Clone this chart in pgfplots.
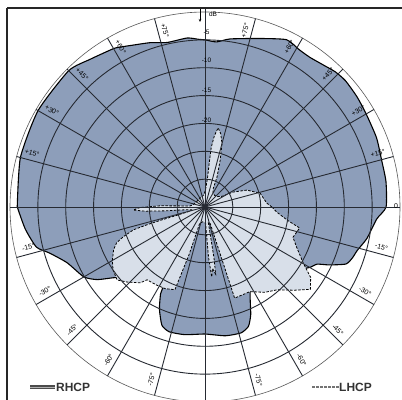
\documentclass[border=0pt]{standalone}
\usepackage{pgfplots}
\pgfplotsset{compat=1.18}
\usepackage{pgfplotstable}
\usepackage{fontspec}
\setmainfont{Liberation Sans}
\usetikzlibrary{arrows.meta}

\definecolor{rhcpfill}{RGB}{141,158,186}
\definecolor{lhcpfill}{RGB}{216,223,233}
\definecolor{gridc}{RGB}{38,42,50}

% RHCP pattern, angle (deg) and level (dB)
\pgfplotstableread{
ang db
-180 -1.3
-173 -2.5
-166.6 -3.9
-163.5 -5.9
-158 -8.3
-150 -9.9
-146 -11.7
-142 -14.4
-135 -17.1
-125 -19.7
-118 -18.8
-117 -17.4
-114 -14.9
-110 -12.4
-106 -11.7
-99 -11.8
-90 -12.2
-81 -11.6
-74 -11.5
-70 -12.2
-67 -14.0
-64 -16.5
-59 -19.2
-55 -19.6
-50 -19.2
-45 -18.3
-40 -17.1
-35 -15.3
-30 -13.3
-27 -12.4
-25 -10.4
-22 -7.7
-19 -7.0
-16 -6.6
-11 -5.4
-4 -4.1
0 -2.5
8 -2.2
15 -2.2
22 -1.8
30 -1.6
36 -1.3
42 -1.1
46 -1.3
50 -1.8
55 -2.2
59 -2.1
64 -1.6
72 -3.2
81.5 -4.5
86 -5.3
90 -5.0
92 -4.9
96 -4.5
103 -4.7
108.5 -3.9
114 -3.2
119 -2.3
121 -2.1
128 -1.4
135 -0.4
150 -0.4
165 -0.7
180 -1.3
}\rhcpdata

% LHCP pattern
\pgfplotstableread{
ang db
0 -23.0
3.7 -23.9
14 -24.8
22 -26.9
28 -29.3
32 -31.4
40 -32.1
50 -32.3
60 -32.1
66 -31.4
68 -29.3
72 -26.2
75 -23.2
78 -21.5
80.6 -20.6
82.5 -22.1
84 -24.2
84.5 -26.9
85 -29.6
88 -31.8
95 -32.8
120 -33.2
150 -33.2
170 -32.8
176 -32.3
178.5 -26.9
180.5 -23.3
182.4 -22.1
184 -24.2
185.5 -27.8
188 -31.4
192 -32.5
195 -32.3
196.5 -29.6
196.6 -26.9
197 -24.2
197.7 -21.5
200 -19.4
202 -17.9
205 -16.9
210 -15.8
214.4 -15.0
219.7 -14.5
224 -15.6
229.5 -17.1
231.5 -18.3
238 -18.5
244 -18.7
250 -19.2
251.5 -26.0
252 -31.8
260 -32.3
272 -32.1
274 -26.0
275.5 -22.4
277 -23.9
279 -22.8
280 -25.7
282 -32.1
286 -32.1
287.5 -31.8
288 -17.8
298 -17.8
305 -16.3
311 -15.3
317 -13.1
322 -11.0
326.3 -12.2
330.3 -14.7
336.5 -17.1
341 -18.3
347.5 -17.6
351 -20.1
356 -22.1
360 -23.0
}\lhcpdata

\begin{document}
\begin{tikzpicture}
\useasboundingbox (0,0) rectangle (402bp,400bp);
\fill[white] (0,0) rectangle (402bp,400bp);

% radius 35 units = 195bp; centre at (205bp,193bp); -35 dB at centre
\begin{axis}[
    at={(0,0)}, anchor=south west,
    scale only axis, hide axis,
    width=402bp, height=400bp,
    xmin=-36.795, xmax=35.359,
    ymin=-34.641, ymax=37.154,
]
\addplot[fill=rhcpfill, draw=black, line width=1.1bp, data cs=polar,
         smooth, tension=0.35]
    table[x=ang, y expr=\thisrow{db}+35] {\rhcpdata};
\addplot[fill=lhcpfill, draw=black, line width=0.8bp, data cs=polar,
         dash pattern=on 2.5bp off 1.5bp]
    table[x=ang, y expr=\thisrow{db}+35] {\lhcpdata};
\end{axis}

\coordinate (O) at (205bp,193bp);
\begin{scope}
\clip (0,0) rectangle (402bp,400bp);
% grid
\foreach \r in {27.857,55.714,83.571,111.43,139.29,167.14}
    \draw[gridc, line width=0.9bp] (O) circle[radius=\r bp];
\draw[gray!70!black, line width=0.6bp] (O) circle[radius=195bp];
\foreach \a in {0,15,...,345}
    \draw[gridc, line width=0.9bp] (O) -- ++(\a:195bp);
\draw[gridc, line width=0.9bp] (O) -- ++(90:199bp);

% elevation labels
\foreach \e in {15,30,45,60,75}{
    \pgfmathsetmacro{\pa}{\e+2.2}
    \pgfmathsetmacro{\pb}{177.8-\e}
    \pgfmathsetmacro{\pc}{2.2-\e}
    \pgfmathsetmacro{\pd}{177.8+\e}
    \node[font=\fontsize{7}{7}\selectfont, inner sep=0pt, rotate=\e]
        at ([shift={(\pa:181bp)}]O) {+\e°};
    \node[font=\fontsize{7}{7}\selectfont, inner sep=0pt, rotate=-\e]
        at ([shift={(\pb:181bp)}]O) {+\e°};
    \node[font=\fontsize{7}{7}\selectfont, inner sep=0pt, rotate=-\e]
        at ([shift={(\pc:181bp)}]O) {-\e°};
    \node[font=\fontsize{7}{7}\selectfont, inner sep=0pt, rotate=\e]
        at ([shift={(\pd:181bp)}]O) {-\e°};
}
\node[font=\fontsize{7}{7}\selectfont, inner sep=0pt] at (396bp,194bp) {0};

% level labels
\foreach \r/\t in {175/-5,147/-10,117/-15,87/-20}
    \node[font=\fontsize{6.5}{6.5}\selectfont, inner sep=0pt]
        at ([shift={(90:\r bp)}, xshift=1.5bp]O) {\t};
\draw[-{Stealth[length=3bp,width=2.5bp]}, line width=0.7bp] (200bp,391bp) -- (200bp,378bp);
\node[font=\fontsize{6.5}{6.5}\selectfont, inner sep=0pt] at (213bp,386bp) {dB};
\end{scope}

% frame
\draw[black!85, line width=1.8bp] (7bp,392bp) -- (402bp,392bp);
\draw[black!85, line width=1.6bp] (7bp,0) -- (7bp,392bp);

% legend
\draw[black!70, line width=4.5bp] (30bp,13bp) -- (55bp,13bp);
\draw[gray!60, line width=0.6bp] (30bp,13bp) -- (55bp,13bp);
\node[anchor=west, inner sep=0pt, font=\fontsize{12}{12}\selectfont\bfseries, text=black!80]
    at (56bp,13bp) {RHCP};
\draw[black!55, line width=1.6bp, dash pattern=on 2.5bp off 1.5bp] (312bp,13bp) -- (339bp,13bp);
\node[anchor=west, inner sep=0pt, font=\fontsize{12}{12}\selectfont\bfseries, text=black!80]
    at (339bp,13bp) {LHCP};
\end{tikzpicture}
\end{document}
